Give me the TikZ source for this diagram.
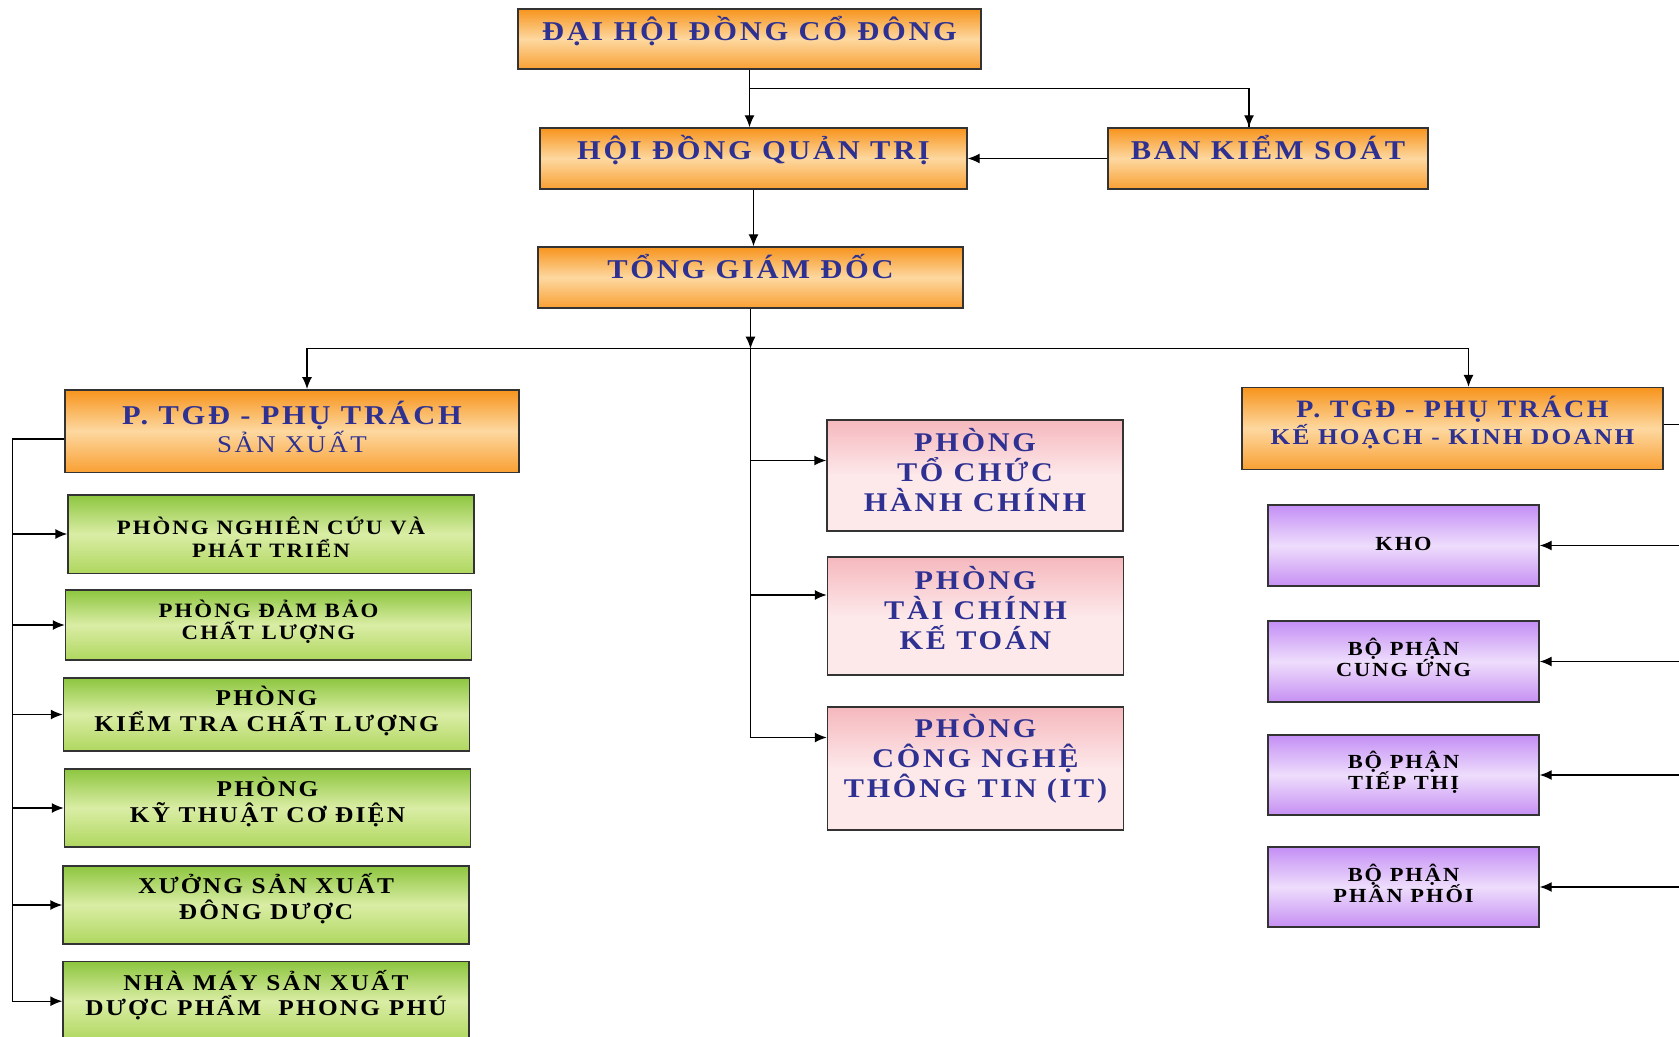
\documentclass[tikz,border=0pt]{standalone}
\usepackage{fontspec}
\setmainfont{Liberation Serif}[FakeStretch=1.12,LetterSpace=10]
\usetikzlibrary{arrows.meta,positioning,calc}
\definecolor{vnBlue}{RGB}{46,49,146}
\definecolor{orgTop}{RGB}{247,148,29}
\definecolor{orgMid}{RGB}{253,216,160}
\definecolor{orgBot}{RGB}{249,160,52}
\definecolor{grnTop}{RGB}{141,198,63}
\definecolor{grnMid}{RGB}{218,237,165}
\definecolor{grnBot}{RGB}{175,215,95}
\definecolor{pnkTop}{RGB}{245,184,189}
\definecolor{pnkMid}{RGB}{253,232,234}
\definecolor{pnkBot}{RGB}{244,181,186}
\definecolor{vltTop}{RGB}{196,142,245}
\definecolor{vltMid}{RGB}{238,221,252}
\definecolor{vltBot}{RGB}{198,144,243}
% room above the first line and below the last one
\newcommand{\boxlines}[3]{\rule{0pt}{#1}#3\rule[-#2]{0pt}{#2}}
\lineskiplimit=-100pt

\begin{document}
\begin{tikzpicture}[x=0.5pt,y=-0.5pt,
    box/.style={draw=black!80,line width=0.7pt,align=center,inner sep=0pt},
    topBox/.style={box,top color=orgTop,bottom color=orgBot,middle color=orgMid,text=vnBlue,font=\fontsize{13.6}{15}\selectfont\bfseries},
    vpBox/.style={box,top color=orgTop,bottom color=orgBot,middle color=orgMid,text=vnBlue,minimum height=40.5pt},
    unitBox/.style={box,top color=grnTop,bottom color=grnBot,middle color=grnMid,minimum width=203pt},
    officeBox/.style={box,top color=pnkTop,bottom color=pnkMid,middle color=pnkMid,text=vnBlue,minimum width=148pt,font=\fontsize{13.5}{15}\selectfont\bfseries},
    salesBox/.style={box,top color=vltTop,bottom color=vltBot,middle color=vltMid,minimum width=135.5pt,minimum height=40pt,font=\fontsize{10}{10.7}\selectfont\bfseries},
    arr/.style={-{Latex[length=6pt,width=5pt]},line width=0.7pt},
    bus/.style={line width=0.7pt},
    ]
    \useasboundingbox[fill=white] (0,0) rectangle (1679,1037);

    % top of the chart
    \node[topBox,minimum width=231.5pt,minimum height=30pt] (dhcd) at (749.5,39) {\boxlines{15.8pt}{14.2pt}{ĐẠI HỘI ĐỒNG CỔ ĐÔNG}};
    \node[topBox,minimum width=213.5pt,minimum height=30.5pt] (hdqt) at (753.5,158.5) {\boxlines{16pt}{14.5pt}{HỘI ĐỒNG QUẢN TRỊ}};
    \node[topBox,minimum width=160pt,minimum height=30.5pt] (bks) at (1268,158.5) {\boxlines{16pt}{14.5pt}{BAN KIỂM SOÁT}};
    \node[topBox,minimum width=212.5pt,minimum height=30.5pt] (tgd) at (750.5,277.5) {\boxlines{15.8pt}{14.7pt}{TỔNG GIÁM ĐỐC}};

    % deputies
    \node[vpBox,minimum width=227pt,minimum height=41.2pt,font=\fontsize{12}{14.3}\selectfont] (sx) at (292,431)
      {\boxlines{17.2pt}{9.7pt}{{\fontsize{13.6}{14.3}\selectfont\bfseries P. TGĐ - PHỤ TRÁCH}\\SẢN XUẤT}};
    \node[vpBox,minimum width=210.5pt,font=\fontsize{11.3}{13.6}\selectfont\bfseries] (kd) at (1452.5,428.5)
      {\boxlines{14.7pt}{12.6pt}{{\fontsize{12.5}{13.6}\selectfont P. TGĐ - PHỤ TRÁCH}\\KẾ HOẠCH - KINH DOANH}};

    % production units
    \node[unitBox,minimum height=39pt,font=\fontsize{10.2}{11.2}\selectfont\bfseries] (g1) at (271,534) {\boxlines{20pt}{8pt}{PHÒNG NGHIÊN CỨU VÀ\\PHÁT TRIỂN}};
    \node[unitBox,minimum height=35pt,font=\fontsize{10.2}{11.2}\selectfont\bfseries] (g2) at (268.5,625) {\boxlines{13.5pt}{10.1pt}{PHÒNG ĐẢM BẢO\\CHẤT LƯỢNG}};
    \node[unitBox,minimum height=36.5pt,font=\fontsize{11.3}{12.85}\selectfont\bfseries] (g3) at (266.5,714.5) {\boxlines{13.9pt}{9.7pt}{PHÒNG\\KIỂM TRA CHẤT LƯỢNG}};
    \node[unitBox,minimum height=39pt,font=\fontsize{11.3}{12.85}\selectfont\bfseries] (g4) at (267.5,808) {\boxlines{13.9pt}{12.4pt}{PHÒNG\\KỸ THUẬT CƠ ĐIỆN}};
    \node[unitBox,minimum height=39pt,font=\fontsize{11.3}{12.85}\selectfont\bfseries] (g5) at (266,905) {\boxlines{13.8pt}{12.4pt}{XƯỞNG SẢN XUẤT\\ĐÔNG DƯỢC}};
    \node[unitBox,minimum height=39.5pt,font=\fontsize{11.3}{12.85}\selectfont\bfseries] (g6) at (266,1001.2) {\boxlines{14.3pt}{12.4pt}{NHÀ MÁY SẢN XUẤT\\DƯỢC PHẨM~~PHONG PHÚ}};

    % offices
    \node[officeBox,minimum height=55.5pt] (p1) at (975,475.5) {\boxlines{15.85pt}{9.65pt}{PHÒNG\\TỔ CHỨC\\HÀNH CHÍNH}};
    \node[officeBox,minimum height=59pt] (p2) at (975.5,616) {\boxlines{16.15pt}{12.9pt}{PHÒNG\\TÀI CHÍNH\\KẾ TOÁN}};
    \node[officeBox,minimum height=61.5pt] (p3) at (975.5,768.5) {\boxlines{15.4pt}{16.1pt}{PHÒNG\\CÔNG NGHỆ\\THÔNG TIN (IT)}};

    % sales units
    \node[salesBox,minimum height=40.5pt] (u1) at (1403.5,545.5) {\boxlines{22.6pt}{17.5pt}{KHO}};
    \node[salesBox,minimum height=40.5pt] (u2) at (1403.5,661.5) {\boxlines{17.2pt}{12.5pt}{BỘ PHẬN\\CUNG ỨNG}};
    \node[salesBox] (u3) at (1403.5,775) {\boxlines{16.5pt}{12.8pt}{BỘ PHẬN\\TIẾP THỊ}};
    \node[salesBox] (u4) at (1403.5,887) {\boxlines{17.2pt}{12pt}{BỘ PHẬN\\PHÂN PHỐI}};

    % connectors
    \draw[arr] (dhcd.south) -- (dhcd.south |- hdqt.north);
    \draw[bus] ($(dhcd.south)+(0,19)$) coordinate (split) -| ([xshift=-9.5pt]bks.north) coordinate (bksIn);
    \draw[arr] (bksIn |- split) -- (bksIn);
    \draw[arr] (bks.west) -- (bks.west -| hdqt.east);
    \draw[arr] (hdqt.south) -- (hdqt.south |- tgd.north);
    \draw[arr] (tgd.south) -- ++(0,40) coordinate (hub);
    \draw[arr] (hub) -| ([xshift=7.5pt]sx.north);
    \draw[arr] (hub) -| ([xshift=8pt]kd.north);

    \foreach \p/\dy in {p1/15,p2/21,p3/31}{
      \coordinate (pin-\p) at ([yshift=\dy*0.5pt]\p.west);
      \draw[arr] (hub |- pin-\p) -- (pin-\p);
    }
    \draw[bus] (hub) -- (hub |- pin-p3);

    \draw[bus] ([yshift=-4pt]sx.west) -- ++(-52,0) coordinate (lbus) -- (lbus |- g6.west);
    \foreach \g in {g1,g2,g3,g4,g5,g6}
      \draw[arr] (lbus |- \g.west) -- (\g.west);

    \draw[bus] ([yshift=2pt]kd.east) -- ++(27,0) coordinate (rbus) -- (rbus |- u4.east);
    \foreach \u in {u1,u2,u3,u4}
      \draw[arr] (rbus |- \u.east) -- (\u.east);
\end{tikzpicture}
\end{document}
